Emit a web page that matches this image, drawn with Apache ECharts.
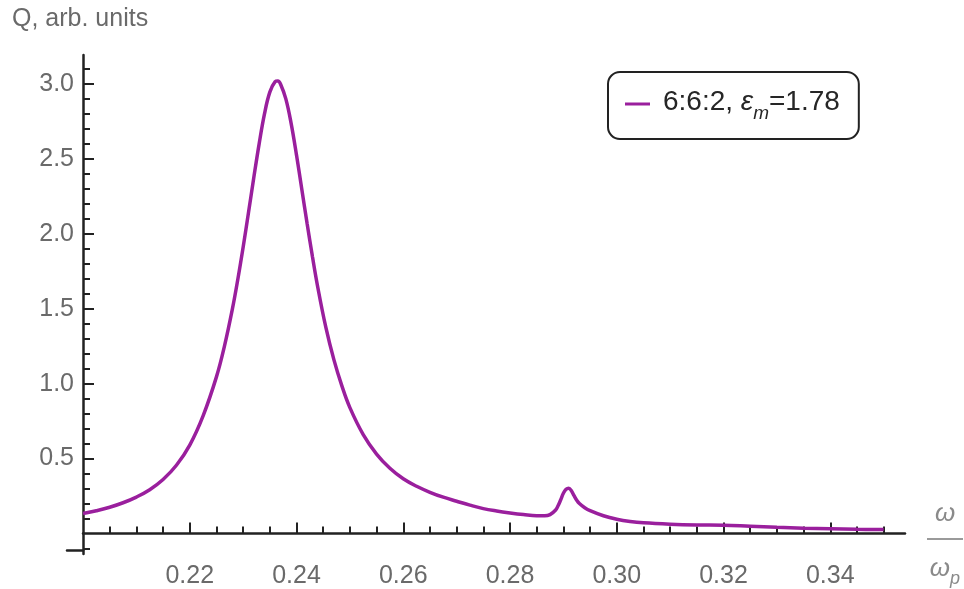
<!DOCTYPE html>
<html>
<head>
<meta charset="utf-8">
<script src="https://cdn.jsdelivr.net/npm/echarts@6/dist/echarts.min.js"></script>
<style>
  html, body { margin: 0; padding: 0; background: #ffffff; }
  #chart { width: 964px; height: 589px; }
</style>
</head>
<body>
<div id="chart"></div>
<script>
// ---- data ----
const omega = [0.200, 0.2025, 0.205, 0.2075, 0.210, 0.2125, 0.215, 0.2175, 0.220, 0.2225,
  0.225, 0.2265, 0.228, 0.229, 0.230, 0.231, 0.232, 0.233, 0.234, 0.235,
  0.236, 0.2365, 0.237, 0.238, 0.239, 0.240, 0.241, 0.242, 0.243, 0.244,
  0.2455, 0.247, 0.2485, 0.250, 0.2525, 0.255, 0.2575, 0.260, 0.2625, 0.265,
  0.2675, 0.270, 0.2725, 0.275, 0.2775, 0.280, 0.2825, 0.285, 0.2865, 0.2875,
  0.2885, 0.289, 0.2895, 0.290, 0.2905, 0.291, 0.2915, 0.292, 0.2925, 0.293,
  0.294, 0.295, 0.2975, 0.300, 0.3025, 0.305, 0.310, 0.315, 0.320, 0.325,
  0.330, 0.335, 0.340, 0.345, 0.350];
const Q = [0.133, 0.152, 0.175, 0.205, 0.243, 0.292, 0.360, 0.455, 0.590, 0.785,
  1.045, 1.250, 1.500, 1.695, 1.910, 2.140, 2.375, 2.600, 2.800, 2.945,
  3.015, 3.020, 3.000, 2.900, 2.735, 2.525, 2.295, 2.065, 1.845, 1.640,
  1.375, 1.160, 0.985, 0.840, 0.660, 0.530, 0.435, 0.365, 0.315, 0.275,
  0.242, 0.215, 0.189, 0.166, 0.150, 0.137, 0.126, 0.118, 0.118, 0.126,
  0.155, 0.185, 0.225, 0.268, 0.295, 0.302, 0.285, 0.252, 0.222, 0.200,
  0.172, 0.152, 0.118, 0.095, 0.080, 0.071, 0.062, 0.057, 0.055, 0.048,
  0.041, 0.035, 0.031, 0.028, 0.026];
const seriesName = '6:6:2, \u03b5m=1.78';
const legendParts = ['6:6:2, ', '\u03b5', 'm', '=1.78'];
const xMajorTicks = [0.22, 0.24, 0.26, 0.28, 0.30, 0.32, 0.34];
const xMinorTicks = [0.205, 0.21, 0.215, 0.225, 0.23, 0.235, 0.245, 0.25, 0.255, 0.265, 0.27, 0.275,
  0.285, 0.29, 0.295, 0.305, 0.31, 0.315, 0.325, 0.33, 0.335, 0.345, 0.35];
const yMajorTicks = [0.5, 1.0, 1.5, 2.0, 2.5, 3.0];
const yMinorTicks = [-0.1, 0.1, 0.2, 0.3, 0.4, 0.6, 0.7, 0.8, 0.9, 1.1, 1.2, 1.3, 1.4, 1.6, 1.7, 1.8, 1.9,
  2.1, 2.2, 2.3, 2.4, 2.6, 2.7, 2.8, 2.9, 3.1];
const yAxisTitle = 'Q, arb. units';
const xAxisNum = '\u03c9';
const xAxisDen = '\u03c9';
const xAxisDenSub = 'p';
const X_MIN = 0.2, X_MAX = 0.354;
const Y_MIN = -0.137, Y_MAX = 3.193;

// ---- chart ----
const FONT = '"Liberation Sans", Arial, Helvetica, sans-serif';
const LABEL = '#6a6a6a';
const AXIS = '#222222';
const CURVE = '#9a1f9d';

const chart = echarts.init(document.getElementById('chart'), null, { renderer: 'canvas' });

const points = omega.map((w, i) => [w, Q[i]]);

const option = {
  backgroundColor: '#ffffff',
  animation: false,
  textStyle: { fontFamily: FONT },
  grid: [
    { left: 83, top: 55, width: 822, height: 517, containLabel: false },
    { left: 67, top: 55, width: 16, height: 517, containLabel: false }
  ],
  xAxis: [
    {
      type: 'value', gridIndex: 0, min: X_MIN, max: X_MAX, position: 'bottom',
      axisLine: { show: true, onZero: true, onZeroAxisIndex: 0, lineStyle: { color: AXIS, width: 2.5 } },
      axisTick: { show: true, inside: true, length: 11, customValues: xMajorTicks, lineStyle: { color: AXIS, width: 2 } },
      axisLabel: { show: true, customValues: xMajorTicks, margin: 10, color: LABEL, fontSize: 25, fontFamily: FONT,
        formatter: v => v.toFixed(2) },
      splitLine: { show: false }
    },
    {
      type: 'value', gridIndex: 0, min: X_MIN, max: X_MAX, position: 'bottom',
      axisLine: { show: false, onZero: true, onZeroAxisIndex: 0 },
      axisTick: { show: true, inside: true, length: 7, customValues: xMinorTicks, lineStyle: { color: AXIS, width: 2 } },
      axisLabel: { show: false },
      splitLine: { show: false }
    },
    {
      type: 'value', gridIndex: 1, min: 0, max: 1, position: 'bottom',
      axisLine: { show: true, onZero: true, onZeroAxisIndex: 2, lineStyle: { color: AXIS, width: 2.5 } },
      axisTick: { show: false }, axisLabel: { show: false }, splitLine: { show: false }
    }
  ],
  yAxis: [
    {
      type: 'value', gridIndex: 0, min: Y_MIN, max: Y_MAX, position: 'left',
      axisLine: { show: true, onZero: false, lineStyle: { color: AXIS, width: 2.5 } },
      axisTick: { show: true, inside: true, length: 11, customValues: yMajorTicks, lineStyle: { color: AXIS, width: 2 } },
      axisLabel: { show: true, customValues: yMajorTicks, margin: 9, color: LABEL, fontSize: 25, fontFamily: FONT,
        formatter: v => v.toFixed(1) },
      splitLine: { show: false }
    },
    {
      type: 'value', gridIndex: 0, min: Y_MIN, max: Y_MAX, position: 'left',
      axisLine: { show: false, onZero: false },
      axisTick: { show: true, inside: true, length: 7, customValues: yMinorTicks, lineStyle: { color: AXIS, width: 2 } },
      axisLabel: { show: false },
      splitLine: { show: false }
    },
    {
      type: 'value', gridIndex: 1, min: Y_MIN, max: Y_MAX, show: true,
      axisLine: { show: false, onZero: false }, axisTick: { show: false }, axisLabel: { show: false }, splitLine: { show: false }
    }
  ],
  legend: {
    show: true,
    data: [seriesName],
    left: 608, top: 72,
    orient: 'vertical',
    backgroundColor: '#ffffff',
    borderColor: AXIS, borderWidth: 2, borderRadius: 12,
    padding: [16, 19, 16, 17],
    icon: 'rect', itemWidth: 25, itemHeight: 3,
    formatter: () => '{a|' + legendParts[0] + '}{e|' + legendParts[1] + '}{s|' + legendParts[2] + '}{a|' + legendParts[3] + '}',
    textStyle: {
      padding: [0, 0, 0, 8],
      rich: {
        a: { fontSize: 28, color: '#262626', fontFamily: FONT, lineHeight: 32, verticalAlign: 'top' },
        e: { fontSize: 28, color: '#262626', fontFamily: FONT, fontStyle: 'italic', lineHeight: 32, verticalAlign: 'top' },
        s: { fontSize: 19, color: '#262626', fontFamily: FONT, fontStyle: 'italic', lineHeight: 20, padding: [16, 0, 0, 0], verticalAlign: 'top' }
      }
    }
  },
  series: [
    {
      name: seriesName,
      type: 'line',
      xAxisIndex: 0, yAxisIndex: 0,
      data: points,
      showSymbol: false,
      symbol: 'none',
      smooth: 0.4,
      lineStyle: { color: CURVE, width: 3.5 },
      itemStyle: { color: CURVE }
    }
  ],
  graphic: [
    { type: 'text', left: 12, top: 7, style: { text: yAxisTitle, fontSize: 25, fill: LABEL, fontFamily: FONT } },
    { type: 'text', x: 945, y: 514, style: { text: xAxisNum, fontSize: 26, fontStyle: 'italic', fill: '#8a8a8a', fontFamily: FONT, align: 'center', verticalAlign: 'middle' } },
    { type: 'line', shape: { x1: 927, y1: 539, x2: 963, y2: 539 }, style: { stroke: '#9a9a9a', lineWidth: 2 } },
    { type: 'text', x: 945, y: 570, style: {
        rich: {
          w: { fontSize: 26, fontStyle: 'italic', fill: '#8a8a8a', fontFamily: FONT, lineHeight: 28, verticalAlign: 'top' },
          p: { fontSize: 18, fontStyle: 'italic', fill: '#8a8a8a', fontFamily: FONT, lineHeight: 20, padding: [14, 0, 0, 0], verticalAlign: 'top' }
        },
        text: '{w|' + xAxisDen + '}{p|' + xAxisDenSub + '}',
        align: 'center', verticalAlign: 'middle'
      } }
  ]
};

chart.setOption(option);
</script>
</body>
</html>
